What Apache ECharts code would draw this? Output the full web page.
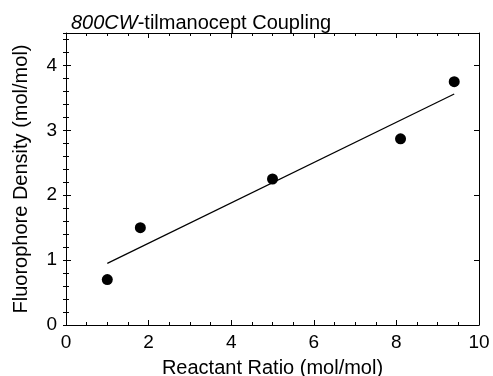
<!DOCTYPE html>
<html>
<head>
<meta charset="utf-8">
<script src="https://cdn.jsdelivr.net/npm/echarts@6/dist/echarts.min.js"></script>
<style>
  html, body { margin: 0; padding: 0; background: #fff; }
  #chart { width: 493px; height: 376px; }
</style>
</head>
<body>
<div id="chart"></div>
<script>
// reactant ratio vs fluorophore density
const ratioX = [1, 1.8, 5, 8.1, 9.4];
const densityY = [0.7, 1.5, 2.25, 2.87, 3.75];

// fitted line end points
const fitX = [1, 9.4];
const fitY = [0.95, 3.56];

const FONT = 'Liberation Sans, Arial, Helvetica, sans-serif';

const chart = echarts.init(document.getElementById('chart'));

const baseAxis = {
    axisLine: { show: true, onZero: false, lineStyle: { color: '#000', width: 1 } },
    splitLine: { show: false },
    axisTick: { show: true, inside: true, length: 5, lineStyle: { color: '#000' } }
};

// major axis (labels, long ticks)
function majorX(pos, labels) {
    return Object.assign({}, baseAxis, {
        type: 'value', position: pos, min: 0, max: 10, interval: 2,
        axisLabel: { show: labels, color: '#000', fontSize: 19, fontFamily: FONT, margin: 8 },
        minorTick: { show: true, splitNumber: 4, length: 3, lineStyle: { color: '#000' } },
        name: labels ? 'Reactant Ratio (mol/mol)' : '',
        nameLocation: 'middle', nameGap: 33,
        nameTextStyle: { color: '#000', fontSize: 20, fontFamily: FONT }
    });
}
function majorY(pos, labels) {
    return Object.assign({}, baseAxis, {
        type: 'value', position: pos, min: 0, max: 4.5, interval: 1,
        axisLabel: { show: labels, showMaxLabel: false, color: '#000', fontSize: 19, fontFamily: FONT, margin: 9 },
        name: labels ? 'Fluorophore Density (mol/mol)' : '',
        nameLocation: 'middle', nameGap: 35,
        nameTextStyle: { color: '#000', fontSize: 20, fontFamily: FONT }
    });
}
// minor y ticks every 0.2
function minorY(pos) {
    return {
        type: 'value', position: pos, min: 0, max: 4.5, interval: 0.2,
        axisLine: { show: false },
        splitLine: { show: false },
        axisLabel: { show: false },
        axisTick: { show: true, inside: true, length: 3, lineStyle: { color: '#000' } }
    };
}

const option = {
    animation: false,
    backgroundColor: '#fff',
    title: {
        text: '{i|800CW}-tilmanocept Coupling',
        left: 66, top: 8,
        textStyle: {
            color: '#000', fontSize: 20, fontWeight: 'normal', fontFamily: FONT,
            rich: { i: { fontStyle: 'italic', fontSize: 20, fontFamily: FONT, color: '#000' } }
        }
    },
    grid: { left: 66, right: 14, top: 33, bottom: 51, containLabel: false, outerBoundsMode: 'none' },
    xAxis: [majorX('bottom', true), majorX('top', false)],
    yAxis: [majorY('left', true), majorY('right', false), minorY('left'), minorY('right')],
    series: [
        {
            type: 'scatter',
            data: ratioX.map((x, i) => [x, densityY[i]]),
            symbol: 'circle',
            symbolSize: 11,
            itemStyle: { color: '#000', opacity: 1 },
            z: 3
        },
        {
            type: 'line',
            data: fitX.map((x, i) => [x, fitY[i]]),
            showSymbol: false,
            lineStyle: { color: '#000', width: 1.2 },
            z: 2
        }
    ]
};

chart.setOption(option);
</script>
</body>
</html>
